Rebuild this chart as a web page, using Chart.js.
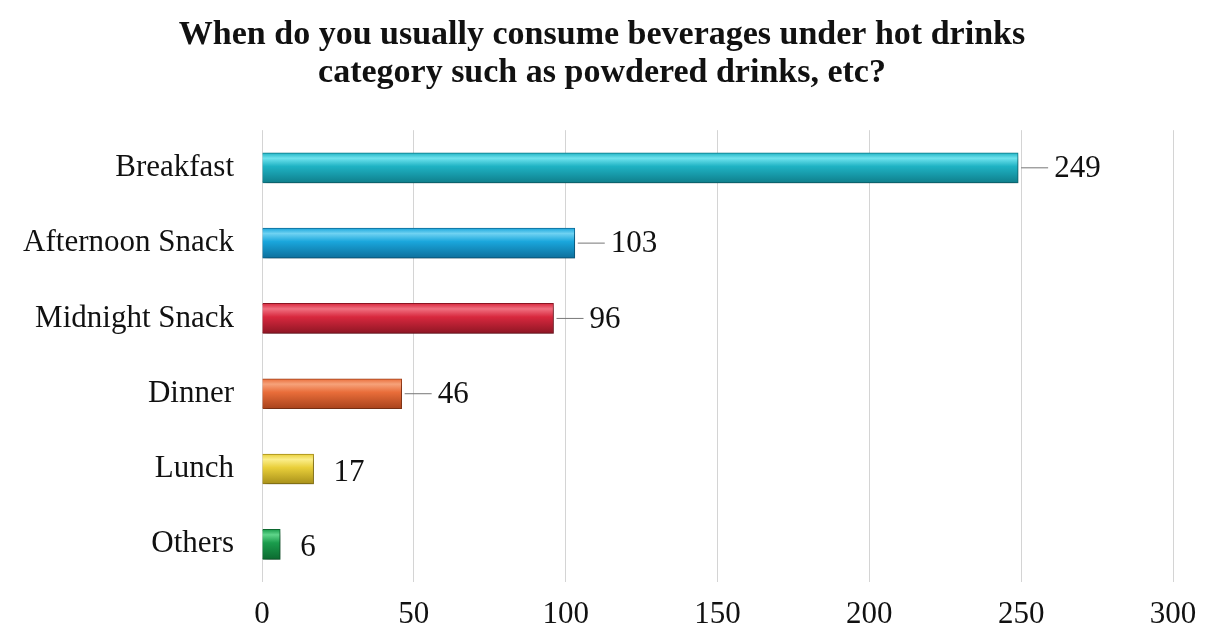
<!DOCTYPE html>
<html>
<head>
<meta charset="utf-8">
<script src="https://cdn.jsdelivr.net/npm/chart.js@4"></script>
<style>
  html, body { margin: 0; padding: 0; background: #fff; }
  #wrap { width: 1205px; height: 639px; }
</style>
</head>
<body>
<div id="wrap"><canvas id="bCanv" width="1205" height="639"></canvas></div>
<script>
const meals = ["Breakfast", "Afternoon Snack", "Midnight Snack", "Dinner", "Lunch", "Others"];
const counts = [249, 103, 96, 46, 17, 6];
const xTicks = [0, 50, 100, 150, 200, 250, 300];

// light / mid / dark shade per bar for the glossy look
const shades = [
  ["#6fe3ee", "#1fb3c4", "#0f7f8c"],
  ["#6fd2f2", "#1aa6dc", "#0d6f9c"],
  ["#f07080", "#d8283e", "#8e1624"],
  ["#f6a27a", "#e96d3a", "#a8431c"],
  ["#fbee8a", "#e9cf3a", "#a8901a"],
  ["#5fd58a", "#1a9c4c", "#0c6a30"]
];

const serif = "'Liberation Serif', 'Times New Roman', serif";

function barFill(c) {
  const chart = c.chart;
  if (!chart.chartArea || !chart.scales.y) return shades[c.dataIndex][1];
  const y = chart.scales.y.getPixelForValue(c.dataIndex);
  const h = 30;
  const g = chart.ctx.createLinearGradient(0, y - h / 2, 0, y + h / 2);
  const s = shades[c.dataIndex];
  g.addColorStop(0, s[1]);
  g.addColorStop(0.18, s[0]);
  g.addColorStop(0.45, s[1]);
  g.addColorStop(1, s[2]);
  return g;
}

// soft drop shadow under the bars
const barShadow = {
  id: "barShadow",
  beforeDatasetsDraw(chart) {
    const ctx = chart.ctx;
    ctx.save();
    ctx.shadowColor = "rgba(0,0,0,0.35)";
    ctx.shadowBlur = 6;
    ctx.shadowOffsetX = 2;
    ctx.shadowOffsetY = 4;
  },
  afterDatasetsDraw(chart) {
    chart.ctx.restore();
  }
};

// value labels with a short leader line
const leaderLabels = {
  id: "leaderLabels",
  afterDatasetsDraw(chart) {
    const ctx = chart.ctx;
    const meta = chart.getDatasetMeta(0);
    ctx.save();
    ctx.font = "31px " + serif;
    ctx.fillStyle = "#111";
    ctx.textBaseline = "middle";
    meta.data.forEach((bar, i) => {
      const x = bar.x, y = bar.y;
      if (counts[i] > 20) {
        ctx.strokeStyle = "#777";
        ctx.lineWidth = 1;
        ctx.beginPath();
        ctx.moveTo(x + 3, y);
        ctx.lineTo(x + 30, y);
        ctx.stroke();
        ctx.fillText(counts[i], x + 36, y + 1);
      } else {
        ctx.fillText(counts[i], x + 20, y + 4);
      }
    });
    ctx.restore();
  }
};

new Chart(document.getElementById("bCanv"), {
  type: "bar",
  data: {
    labels: meals,
    datasets: [{
      data: counts,
      backgroundColor: barFill,
      borderColor: c => shades[c.dataIndex][2],
      borderWidth: 1,
      barThickness: 30
    }]
  },
  options: {
    indexAxis: "y",
    responsive: false,
    animation: false,
    layout: { padding: { top: 0, right: 1, bottom: 4, left: 0 } },
    plugins: {
      legend: { display: false },
      tooltip: { enabled: false },
      title: {
        display: true,
        text: ["When do you usually consume beverages under hot drinks", "category such as powdered drinks, etc?"],
        color: "#111",
        font: { family: serif, size: 34, weight: "bold", lineHeight: 1.12 },
        padding: { top: 16, bottom: 38 }
      }
    },
    scales: {
      x: {
        min: 0,
        max: 300,
        afterBuildTicks: ax => { ax.ticks = xTicks.map(v => ({ value: v })); },
        afterFit: ax => { ax.height = 53; ax.paddingRight = 32; },
        grid: { color: "#d4d4d4", lineWidth: 1, drawTicks: false },
        border: { display: false },
        ticks: { color: "#111", font: { family: serif, size: 31 }, padding: 14 }
      },
      y: {
        afterFit: ax => { ax.width = 262; },
        grid: { display: false, drawTicks: false },
        border: { display: false },
        ticks: { color: "#111", font: { family: serif, size: 31 }, padding: 28 }
      }
    }
  },
  plugins: [barShadow, leaderLabels]
});
</script>
</body>
</html>
